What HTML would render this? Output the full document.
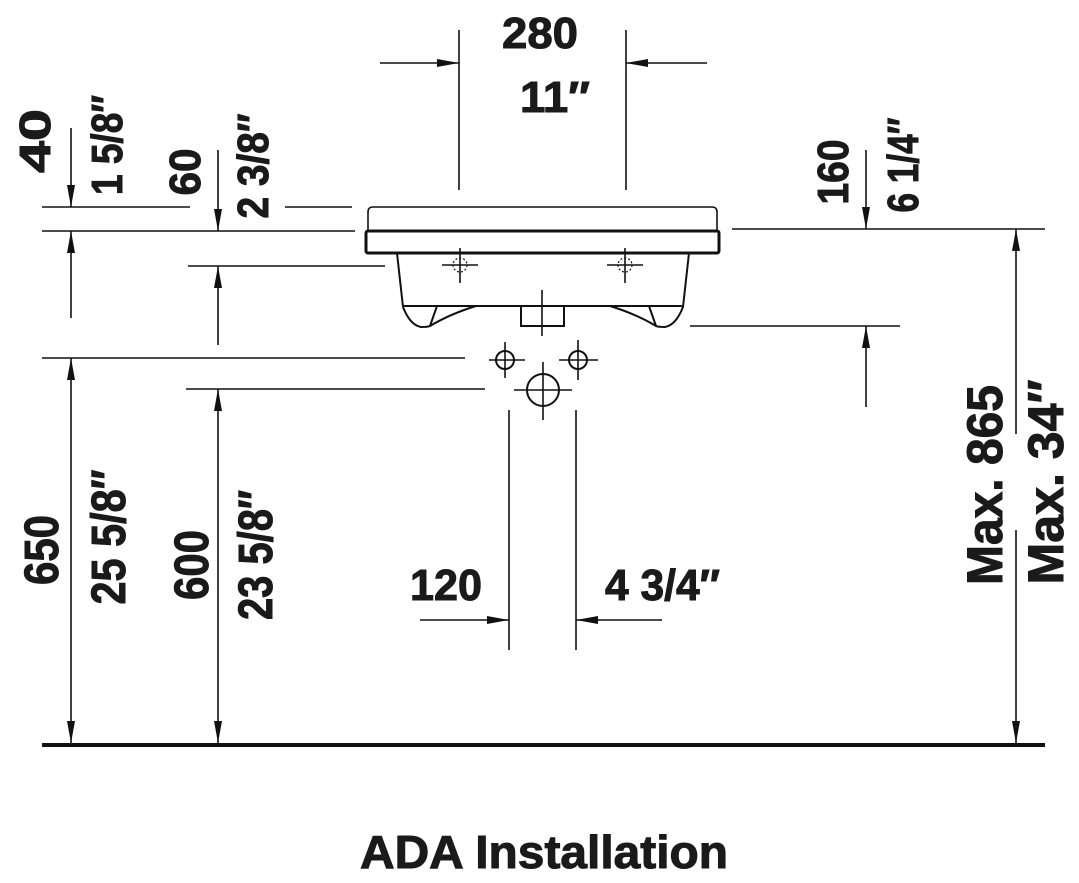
<!DOCTYPE html>
<html><head><meta charset="utf-8"><style>
html,body{margin:0;padding:0;background:#fff}
svg{display:block}
text{font-family:"Liberation Sans Narrow","Liberation Sans",sans-serif;font-weight:bold;fill:#1a1a1a;stroke:#1a1a1a;stroke-width:1}
</style></head><body>
<svg width="1079" height="883" viewBox="0 0 1079 883" xmlns="http://www.w3.org/2000/svg">
<g stroke="#111" stroke-width="1.6" fill="none">
<line x1="459" y1="30" x2="459" y2="190"/>
<line x1="626" y1="30" x2="626" y2="190"/>
<line x1="380" y1="63" x2="459" y2="63"/>
<line x1="707" y1="63" x2="626" y2="63"/>
<line x1="42" y1="207" x2="190" y2="207"/>
<line x1="285" y1="207" x2="352" y2="207"/>
<line x1="42" y1="231" x2="355" y2="231"/>
<line x1="188" y1="266" x2="385" y2="266"/>
<line x1="42" y1="358" x2="465" y2="358"/>
<line x1="186" y1="389" x2="485" y2="389"/>
<line x1="71" y1="128" x2="71" y2="207"/>
<line x1="71" y1="318" x2="71" y2="231"/>
<line x1="218" y1="150" x2="218" y2="231"/>
<line x1="218" y1="345" x2="218" y2="266"/>
<line x1="71" y1="358" x2="71" y2="745"/>
<line x1="218" y1="389" x2="218" y2="745"/>
<line x1="732" y1="229" x2="1045" y2="229"/>
<line x1="866" y1="150" x2="866" y2="229"/>
<line x1="690" y1="326" x2="900" y2="326"/>
<line x1="866" y1="407" x2="866" y2="326"/>
<line x1="1016" y1="434" x2="1016" y2="229"/>
<line x1="1016" y1="530" x2="1016" y2="745"/>
<line x1="509" y1="410" x2="509" y2="650"/>
<line x1="576" y1="410" x2="576" y2="650"/>
<line x1="420" y1="620" x2="509" y2="620"/>
<line x1="662" y1="620" x2="576" y2="620"/>
<path d="M368,231 L368,212 Q368,207 373,207 L712,207 Q717,207 717,212 L717,231"/>
<rect x="366" y="231" width="353" height="22" rx="2" stroke-width="3"/>
<path d="M397,253 L403,307 Q410,325 421,327 Q428,327 430,326 L437,306 M403,306 L682,306 M689,253 L683,307 Q676,325 665,327 Q658,327 656,326 L649,306 M430,326 Q450,314 476,306 M656,326 Q636,314 610,306" stroke-width="2"/>
<rect x="521" y="306" width="43" height="20" stroke-width="2"/>
<line x1="542" y1="290" x2="542" y2="336"/>
<line x1="460" y1="248" x2="460" y2="283"/><line x1="442" y1="265" x2="478" y2="265"/>
<line x1="625" y1="248" x2="625" y2="283"/><line x1="607" y1="265" x2="643" y2="265"/>
<circle cx="460" cy="265" r="7" stroke-dasharray="2,2" stroke-width="1.2"/>
<circle cx="625" cy="265" r="7" stroke-dasharray="2,2" stroke-width="1.2"/>
<circle cx="505" cy="360" r="9" stroke-width="2"/><line x1="489" y1="360" x2="525" y2="360"/><line x1="505" y1="342" x2="505" y2="378"/>
<circle cx="578" cy="360" r="9" stroke-width="2"/><line x1="559" y1="360" x2="598" y2="360"/><line x1="578" y1="340" x2="578" y2="380"/>
<circle cx="543" cy="390" r="16" stroke-width="2"/><line x1="514" y1="390" x2="572" y2="390"/><line x1="543" y1="362" x2="543" y2="420"/>
<line x1="42" y1="745" x2="1045" y2="745" stroke-width="4"/>
</g>
<g fill="#111">
<polygon points="459,63 437,59 437,67"/>
<polygon points="626,63 648,59 648,67"/>
<polygon points="509,620 487,616 487,624"/>
<polygon points="576,620 598,616 598,624"/>
<polygon points="71,207 67,185 75,185"/>
<polygon points="218,231 214,209 222,209"/>
<polygon points="866,229 862,207 870,207"/>
<polygon points="71,743 67,721 75,721"/>
<polygon points="218,743 214,721 222,721"/>
<polygon points="1016,743 1012,721 1020,721"/>
<polygon points="71,231 67,253 75,253"/>
<polygon points="218,266 214,288 222,288"/>
<polygon points="866,326 862,348 870,348"/>
<polygon points="71,358 67,380 75,380"/>
<polygon points="218,389 214,411 222,411"/>
<polygon points="1016,229 1012,251 1020,251"/>
</g>
<text x="502" y="48" font-size="44" textLength="76" lengthAdjust="spacingAndGlyphs">280</text>
<text x="520" y="112" font-size="44" textLength="70" lengthAdjust="spacingAndGlyphs">11″</text>
<text x="410" y="600" font-size="44" textLength="72" lengthAdjust="spacingAndGlyphs">120</text>
<text x="605" y="600" font-size="44" textLength="115" lengthAdjust="spacingAndGlyphs">4 3/4″</text>
<text x="360" y="868" font-size="46" textLength="368" lengthAdjust="spacingAndGlyphs">ADA Installation</text>
<g text-anchor="middle">
<text transform="translate(50,141) rotate(-90)" font-size="44" textLength="64" lengthAdjust="spacingAndGlyphs">40</text>
<text transform="translate(122,145) rotate(-90)" font-size="44" textLength="100" lengthAdjust="spacingAndGlyphs">1 5/8″</text>
<text transform="translate(200,172) rotate(-90)" font-size="44" textLength="47" lengthAdjust="spacingAndGlyphs">60</text>
<text transform="translate(268,166) rotate(-90)" font-size="44" textLength="105" lengthAdjust="spacingAndGlyphs">2 3/8″</text>
<text transform="translate(58,550) rotate(-90)" font-size="48" textLength="70" lengthAdjust="spacingAndGlyphs">650</text>
<text transform="translate(125,537) rotate(-90)" font-size="48" textLength="135" lengthAdjust="spacingAndGlyphs">25 5/8″</text>
<text transform="translate(208,565) rotate(-90)" font-size="48" textLength="70" lengthAdjust="spacingAndGlyphs">600</text>
<text transform="translate(272,555) rotate(-90)" font-size="48" textLength="130" lengthAdjust="spacingAndGlyphs">23 5/8″</text>
<text transform="translate(848,172) rotate(-90)" font-size="44" textLength="65" lengthAdjust="spacingAndGlyphs">160</text>
<text transform="translate(918,165) rotate(-90)" font-size="44" textLength="95" lengthAdjust="spacingAndGlyphs">6 1/4″</text>
<text transform="translate(1002,485) rotate(-90)" font-size="50" textLength="200" lengthAdjust="spacingAndGlyphs">Max. 865</text>
<text transform="translate(1063,482) rotate(-90)" font-size="50" textLength="205" lengthAdjust="spacingAndGlyphs">Max. 34″</text>
</g>
</svg>
</body></html>
